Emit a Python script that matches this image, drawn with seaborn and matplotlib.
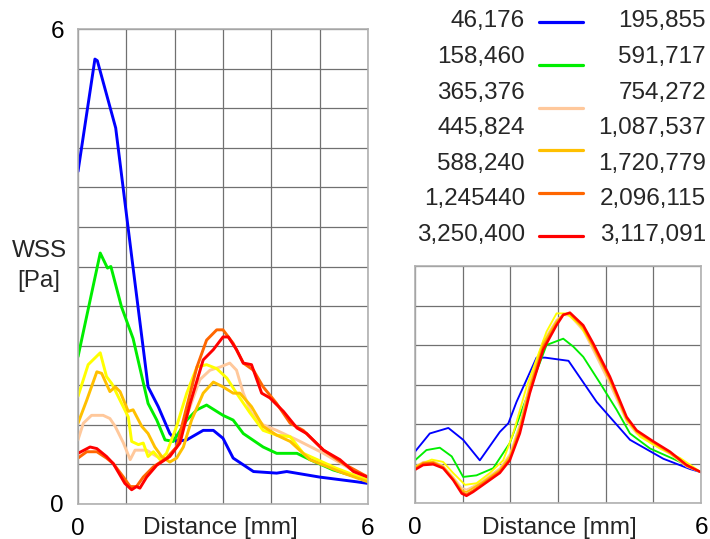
import matplotlib
matplotlib.use("Agg")
import matplotlib.pyplot as plt
from matplotlib.lines import Line2D
import seaborn as sns
import pandas as pd

# ---------------- data ----------------
series_names = ["blue", "green", "peach", "yellow", "gold", "orange", "red"]
series_colors = ["#0000FF", "#00EE00", "#FFC89B", "#FFFF00", "#FFC000", "#FF6600", "#FF0000"]

# left panel
blue_L_x = [0, 0.35, 0.40, 0.78, 1.12, 1.45, 1.66, 1.9, 2.04, 2.25, 2.59, 2.8, 3.0, 3.21, 3.63, 4.11, 4.32, 5.0, 5.77, 6.0]
blue_L_y = [4.2, 5.62, 5.6, 4.75, 3.08, 1.48, 1.23, 0.89, 0.79, 0.81, 0.93, 0.93, 0.83, 0.58, 0.41, 0.39, 0.41, 0.34, 0.28, 0.26]

green_L_x = [0, 0.46, 0.61, 0.68, 0.9, 1.14, 1.45, 1.63, 1.8, 1.97, 2.25, 2.46, 2.66, 3.0, 3.21, 3.42, 3.83, 4.11, 4.53, 4.8, 5.28, 6.0]
green_L_y = [1.86, 3.17, 2.98, 3.0, 2.49, 2.09, 1.27, 1.06, 0.81, 0.79, 1.06, 1.19, 1.25, 1.12, 1.06, 0.89, 0.72, 0.64, 0.64, 0.56, 0.43, 0.30]

peach_L_x = [0, 0.11, 0.28, 0.52, 0.66, 0.77, 0.94, 1.08, 1.18, 1.42, 1.63, 1.83, 2.04, 2.32, 2.52, 2.73, 2.94, 3.14, 3.28, 3.42, 3.59, 3.83, 4.11, 4.53, 5.08, 5.56, 6.0]
peach_L_y = [0.81, 1.02, 1.12, 1.12, 1.08, 0.98, 0.77, 0.56, 0.68, 0.68, 0.60, 0.56, 0.72, 1.23, 1.57, 1.69, 1.73, 1.78, 1.69, 1.40, 1.15, 1.0, 0.93, 0.81, 0.64, 0.47, 0.30]

yellow_L_x = [0, 0.21, 0.46, 0.59, 0.70, 0.87, 1.04, 1.11, 1.25, 1.35, 1.45, 1.56, 1.70, 1.83, 2.04, 2.25, 2.46, 2.66, 2.87, 3.08, 3.28, 3.56, 3.83, 4.11, 4.39, 4.66, 5.35, 6.0]
yellow_L_y = [1.36, 1.76, 1.91, 1.61, 1.52, 1.31, 1.10, 0.79, 0.75, 0.77, 0.60, 0.66, 0.56, 0.64, 0.98, 1.40, 1.73, 1.76, 1.71, 1.59, 1.40, 1.15, 0.93, 0.87, 0.85, 0.64, 0.45, 0.30]

gold_L_x = [0, 0.18, 0.39, 0.49, 0.66, 0.77, 0.87, 1.04, 1.14, 1.32, 1.45, 1.59, 1.73, 1.90, 2.04, 2.18, 2.35, 2.59, 2.80, 3.0, 3.21, 3.35, 3.59, 3.83, 4.11, 4.39, 4.80, 5.49, 6.0]
gold_L_y = [1.02, 1.31, 1.67, 1.65, 1.42, 1.48, 1.42, 1.17, 1.19, 0.98, 0.89, 0.72, 0.60, 0.53, 0.58, 0.72, 1.06, 1.40, 1.54, 1.48, 1.40, 1.40, 1.23, 0.98, 0.87, 0.79, 0.56, 0.39, 0.28]

orange_L_x = [0, 0.18, 0.39, 0.59, 0.73, 0.94, 1.08, 1.21, 1.35, 1.56, 1.83, 2.04, 2.25, 2.46, 2.66, 2.87, 3.0, 3.21, 3.42, 3.63, 3.83, 4.11, 4.39, 4.66, 5.08, 5.49, 6.0]
orange_L_y = [0.58, 0.66, 0.66, 0.58, 0.51, 0.34, 0.22, 0.22, 0.34, 0.47, 0.58, 0.72, 1.23, 1.73, 2.07, 2.20, 2.20, 2.03, 1.78, 1.69, 1.48, 1.27, 1.02, 0.93, 0.68, 0.51, 0.34]

red_L_x = [0, 0.25, 0.39, 0.59, 0.73, 0.97, 1.11, 1.21, 1.28, 1.42, 1.63, 1.90, 2.11, 2.32, 2.59, 2.80, 3.0, 3.11, 3.28, 3.42, 3.59, 3.80, 3.97, 4.25, 4.53, 4.73, 5.08, 5.42, 5.70, 6.0]
red_L_y = [0.64, 0.72, 0.70, 0.60, 0.51, 0.26, 0.18, 0.22, 0.20, 0.34, 0.49, 0.60, 0.77, 1.27, 1.82, 1.95, 2.11, 2.11, 1.95, 1.78, 1.76, 1.40, 1.34, 1.17, 0.96, 0.89, 0.68, 0.56, 0.41, 0.34]

# right panel
blue_R_x = [0, 0.31, 0.70, 1.01, 1.36, 1.78, 1.96, 2.13, 2.55, 2.73, 3.22, 3.81, 4.51, 5.21, 5.77, 6.0]
blue_R_y = [0.65, 0.88, 0.95, 0.80, 0.54, 0.90, 1.01, 1.28, 1.84, 1.84, 1.80, 1.28, 0.80, 0.56, 0.43, 0.39]

green_R_x = [0, 0.24, 0.52, 0.77, 1.01, 1.29, 1.64, 1.99, 2.27, 2.76, 3.11, 3.32, 3.53, 3.88, 4.23, 4.51, 4.93, 5.49, 6.0]
green_R_y = [0.54, 0.67, 0.70, 0.59, 0.33, 0.35, 0.44, 0.76, 1.22, 2.0, 2.08, 1.98, 1.85, 1.52, 1.18, 0.88, 0.69, 0.54, 0.39]

yellow_R_x = [0, 0.35, 0.59, 0.80, 1.05, 1.29, 1.57, 1.85, 2.06, 2.34, 2.76, 2.97, 3.18, 3.46, 3.74, 4.09, 4.44, 4.72, 5.14, 5.56, 6.0]
yellow_R_y = [0.46, 0.55, 0.52, 0.38, 0.23, 0.25, 0.38, 0.54, 0.88, 1.47, 2.17, 2.40, 2.40, 2.25, 1.98, 1.56, 1.05, 0.84, 0.69, 0.57, 0.39]

shared_R_x = [0, 0.17, 0.38, 0.59, 0.80, 0.98, 1.08, 1.22, 1.43, 1.78, 1.99, 2.20, 2.41, 2.69, 2.97, 3.11, 3.25, 3.53, 3.74, 4.09, 4.44, 4.65, 5.0, 5.35, 5.70, 6.0]
peach_R_y = [0.46, 0.52, 0.53, 0.47, 0.33, 0.19, 0.17, 0.21, 0.29, 0.44, 0.62, 1.00, 1.52, 2.05, 2.32, 2.38, 2.37, 2.18, 1.93, 1.50, 1.03, 0.88, 0.74, 0.62, 0.46, 0.39]
gold_R_y = [0.45, 0.51, 0.52, 0.46, 0.31, 0.16, 0.14, 0.19, 0.27, 0.42, 0.59, 0.96, 1.48, 2.02, 2.30, 2.39, 2.39, 2.21, 1.97, 1.55, 1.06, 0.90, 0.76, 0.63, 0.47, 0.39]
orange_R_y = [0.43, 0.50, 0.51, 0.45, 0.30, 0.14, 0.11, 0.16, 0.25, 0.40, 0.56, 0.92, 1.43, 1.98, 2.27, 2.39, 2.40, 2.23, 1.99, 1.57, 1.07, 0.91, 0.77, 0.64, 0.47, 0.39]
red_R_y = [0.42, 0.48, 0.49, 0.44, 0.29, 0.12, 0.09, 0.14, 0.23, 0.38, 0.54, 0.88, 1.39, 1.94, 2.25, 2.38, 2.41, 2.25, 2.02, 1.60, 1.09, 0.92, 0.78, 0.65, 0.48, 0.39]

legend_left = ["46,176", "158,460", "365,376", "445,824", "588,240", "1,245440", "3,250,400"]
legend_right = ["195,855", "591,717", "754,272", "1,087,537", "1,720,779", "2,096,115", "3,117,091"]
legend_line_colors = ["#0000FF", "#00EE00", "#FFC89B", "#FFC000", "#FF6600", "#FF0000"]

# ---------------- build tables ----------------
def long_df(pairs):
    rows = []
    for name, xs, ys in pairs:
        for i, (xv, yv) in enumerate(zip(xs, ys)):
            rows.append({"series": name, "order": i, "x": xv, "y": yv})
    return pd.DataFrame(rows)

left_df = long_df([
    ("blue", blue_L_x, blue_L_y), ("green", green_L_x, green_L_y),
    ("peach", peach_L_x, peach_L_y), ("yellow", yellow_L_x, yellow_L_y),
    ("gold", gold_L_x, gold_L_y), ("orange", orange_L_x, orange_L_y),
    ("red", red_L_x, red_L_y)])
right_df = long_df([
    ("blue", blue_R_x, blue_R_y), ("green", green_R_x, green_R_y),
    ("peach", shared_R_x, peach_R_y), ("yellow", yellow_R_x, yellow_R_y),
    ("gold", shared_R_x, gold_R_y), ("orange", shared_R_x, orange_R_y),
    ("red", shared_R_x, red_R_y)])

palette = dict(zip(series_names, series_colors))

# ---------------- figure ----------------
sns.set_style("white")
plt.rcParams["font.family"] = ["Liberation Sans", "DejaVu Sans"]
FS = 17.5

W, H = 710, 539
fig = plt.figure(figsize=(W / 100, H / 100), dpi=100)

def px_axes(x0, y0, x1, y1):
    return fig.add_axes([x0 / W, 1 - y1 / H, (x1 - x0) / W, (y1 - y0) / H])

axL = px_axes(78, 29, 368, 504)
axR = px_axes(415, 266, 701, 503)

grid_color = "#707070"
for ax, df, lw, ymax in [(axL, left_df, 2.1, 6), (axR, right_df, 1.35, 3)]:
    for name in series_names:
        sub = df[df.series == name]
        sns.lineplot(data=sub, x="x", y="y", color=palette[name], sort=False,
                     estimator=None, lw=(lw + 0.4 if (name == "red" and ax is axR) else lw),
                     ax=ax, legend=False)
    ax.set_xlim(0, 6)
    ax.set_ylim(0, ymax)
    ax.set_xticks(range(0, 7))
    ax.set_xticklabels(["0", "", "", "", "", "", "6"])
    yt = [i * 0.5 for i in range(int(ymax * 2) + 1)]
    ax.set_yticks(yt)
    if ax is axL:
        ax.set_yticklabels(["0"] + [""] * (len(yt) - 2) + ["6"])
    else:
        ax.set_yticklabels([""] * len(yt))
    ax.grid(True, color=grid_color, lw=0.9)
    ax.set_axisbelow(True)
    for s in ax.spines.values():
        s.set_color("#b0b0b0")
        s.set_linewidth(1.2)
    ax.tick_params(axis="both", length=0, labelsize=FS, colors="black")
    ax.tick_params(axis="x", pad=10)
    ax.tick_params(axis="y", pad=10)
    ax.set_xlabel("Distance [mm]", fontsize=FS, va="center")
    ax.set_ylabel("")

axL.xaxis.set_label_coords(0.49, (504 - 528) / 475)
axR.xaxis.set_label_coords(0.505, (503 - 528) / 237)

# y label
axL.set_ylabel("WSS\n[Pa]", fontsize=FS, rotation=0, ha="center", va="center", linespacing=1.45)
axL.yaxis.set_label_coords((39 - 78) / 290, (504 - 266) / 475)

# legend (custom)
for i, (lt, rt) in enumerate(zip(legend_left, legend_right)):
    yc = 21.5 + i * 35.6
    fig.text(525 / W, 1 - yc / H, lt, ha="right", va="center", fontsize=FS)
    fig.text(706 / W, 1 - yc / H, rt, ha="right", va="center", fontsize=FS)
for i, c in enumerate(legend_line_colors):
    yl = 21.7 + i * 42.9
    fig.add_artist(Line2D([539 / W, 583 / W], [1 - yl / H, 1 - yl / H], color=c, lw=2.3,
                          transform=fig.transFigure, solid_capstyle="round"))

fig.savefig("out.png", dpi=100)
